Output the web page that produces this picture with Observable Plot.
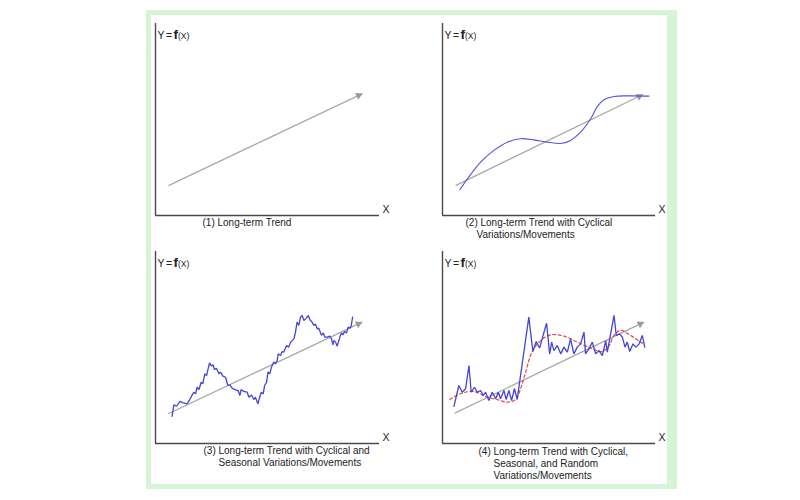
<!DOCTYPE html>
<html>
<head>
<meta charset="utf-8">
<script src="https://cdn.jsdelivr.net/npm/d3@7"></script>
<script src="https://cdn.jsdelivr.net/npm/@observablehq/plot@0.6"></script>
<style>
  body { margin: 0; background: #fff; font-family: "Liberation Sans", Arial, sans-serif; }
  #page { position: relative; width: 800px; height: 500px; overflow: hidden; background: #fff; }
  #frame { position: absolute; left: 146px; top: 10px; width: 516px; height: 469px;
           border-style: solid; border-color: #d5f5d5; border-width: 5px 10px 5px 5px; }
  .panel { position: absolute; }
</style>
</head>
<body>
<div id="page"><div id="frame"></div></div>
<script>
// ---------- data (abstract units: x 0..100 along the X axis, y 0..100 up the Y axis) ----------
const captions1 = ["(1) Long-term Trend"];
const captions2 = ["(2) Long-term Trend with Cyclical", "Variations/Movements"];
const captions3 = ["(3) Long-term Trend with Cyclical and", "Seasonal Variations/Movements"];
const captions4 = ["(4) Long-term Trend with Cyclical,", "Seasonal, and Random", "Variations/Movements"];

const trend1 = [[5.8, 15.6], [92.4, 63.5]];
const trend2 = [[5.8, 15.6], [89.4, 63.0]];
const trend3 = [[5.7, 15.5], [92.3, 63.2]];
const trend4 = [[5.5, 15.8], [89.9, 63.2]];

// (2) cyclical movement
const cyclical2 = [[7.7,13.4],[11.7,20],[17,27.8],[22.9,33.9],[28.9,38.2],[34.8,40],[40.8,39.4],[46.7,38.2],
  [53.4,37.6],[57.1,39.1],[61.6,43.4],[66.1,50.4],[69.1,56.8],[72,60.3],[76.5,62],[82.5,62.3],[92.1,62.2]];

// (3) cyclical + seasonal
const seasonal3 = [[7.4,14.2],[8.2,20.1],[9.4,19.4],[10.9,21.9],[12.4,21.2],[14.1,20.7],[15.3,22.9],[16.4,25.3],
  [17.1,26.7],[17.9,25.9],[18.6,29.3],[19.4,28.1],[20.4,31.9],[21.1,31.1],[22.0,36.3],[22.8,35.4],[24.1,42.0],
  [25.0,40.3],[25.7,41.0],[26.3,38.5],[27.2,39.2],[28.3,36.3],[29.0,37.2],[30.1,35.1],[31.3,34.5],[32.3,30.2],
  [33.2,30.6],[34.2,28.8],[35.4,28.1],[36.9,27.6],[37.7,25.0],[38.2,28.1],[39.4,27.1],[40.9,26.7],[41.7,24.1],
  [42.9,25.3],[43.9,22.9],[44.6,24.1],[45.7,20.7],[46.4,23.6],[47.2,26.7],[48.1,25.9],[48.7,30.2],[49.6,31.9],
  [50.2,37.2],[51.0,36.3],[51.8,39.8],[52.8,42.4],[53.6,41.5],[54.3,43.2],[54.8,46.7],[55.8,45.8],[56.6,47.9],
  [57.3,47.6],[58.5,51.0],[59.5,50.2],[60.3,52.8],[61.8,54.5],[62.5,58.0],[63.2,63.2],[64.0,61.5],[64.7,65.8],
  [65.5,66.7],[66.2,64.1],[67.4,65.3],[68.2,66.7],[68.9,64.6],[69.9,63.2],[70.7,61.5],[71.4,62.2],[72.2,59.7],
  [72.9,60.1],[73.7,57.6],[74.1,56.3],[74.9,57.6],[75.6,55.4],[76.6,55.4],[77.8,55.9],[78.6,54.5],[79.2,51.4],
  [79.6,53.6],[80.4,52.8],[81.1,50.7],[82.3,55.4],[83.0,57.6],[83.6,56.6],[84.4,58.3],[85.3,57.6],[86.0,60.6],
  [86.8,60.1],[87.4,61.5],[88.0,65.8]];

// (4) observed series with random variation
const observed4 = [[5.1,19.3],[7.3,30.2],[8.8,26.7],[10.3,28.5],[11.8,40.6],[12.8,26.7],[14.3,29.3],[15.5,26.7],
  [17.0,27.6],[18.2,25.0],[19.2,26.7],[20.7,22.4],[22.2,26.7],[23.7,23.3],[24.9,26.7],[25.9,23.3],[27.4,27.6],
  [28.4,22.9],[29.6,27.6],[30.8,22.4],[32.1,28.5],[33.3,22.9],[38.5,65.8],[40.3,47.9],[41.8,53.1],[43.3,49.7],
  [46.4,62.7],[47.8,46.7],[48.7,52.8],[49.7,48.4],[51.2,51.0],[52.7,46.7],[54.2,50.2],[55.7,47.6],[57.1,54.5],
  [58.6,46.7],[60.1,50.2],[61.6,51.9],[63.1,58.0],[63.8,46.7],[65.3,49.3],[66.8,52.8],[68.3,46.7],[69.8,48.4],
  [71.3,45.8],[72.8,53.6],[73.5,47.6],[75.0,57.1],[76.5,66.7],[77.5,56.3],[79.0,57.1],[80.2,55.4],[81.4,50.2],
  [82.4,52.8],[83.5,47.9],[85.0,51.9],[86.2,50.2],[87.7,51.9],[89.1,56.3],[90.2,50.2]];
// (4) underlying cyclical curve (dashed)
const cycle4 = [[3.3,22.9],[8.0,25.9],[14.0,27.1],[19.9,24.1],[24.4,22.9],[28.9,21.5],[32.6,22.9],[34.8,28.5],
  [37.1,37.2],[40.0,47.9],[43.8,53.6],[48.2,56.6],[54.2,55.9],[60.1,52.8],[66.1,49.7],[71.3,47.9],[74.3,51.0],
  [76.5,56.3],[79.5,58.9],[83.9,56.3],[88.4,52.8],[89.9,51.9]];

// ---------- layout ----------
const KX = 2.24, KY = 1.92, INNER_H = 192;
const ML = 10, MR = 14, MT = 4;
const TEXT = "#222";
const FONT = "'Liberation Sans', Arial, sans-serif";

function label(txt, dx, size, extra = {}) {
  return Plot.text([txt], {text: d => d, frameAnchor: "top-left", dx, dy: 15, lineAnchor: "bottom",
    textAnchor: "start", fontSize: size, fill: TEXT, ...extra});
}

function panel({left, top, xMax, innerW, trend, series, captions, capPos, mBottom}) {
  const [[x1, y1], [x2, y2]] = trend;
  const ang = Math.atan2((y2 - y1) * KY, (x2 - x1) * KX);
  const back = 4.2;
  const marks = [
    Plot.ruleX([0], {stroke: "#4a4a4a", strokeWidth: 1.4}),
    Plot.ruleY([0], {stroke: "#4a4a4a", strokeWidth: 1.4}),
    Plot.link([trend], {x1: d => d[0][0], y1: d => d[0][1], x2: d => d[1][0], y2: d => d[1][1],
      stroke: "#a8a8a8", strokeWidth: 1.3}),
    Plot.dot([trend[1]], {x: d => d[0], y: d => d[1], symbol: "triangle", r: 2.8,
      fill: "#9a9a9a", stroke: "none", rotate: 90 - ang * 180 / Math.PI,
      dx: -back * Math.cos(ang), dy: back * Math.sin(ang)}),
    ...series,
    label("Y", 2, 10.5),
    label("=", 10.5, 10.5),
    label("f", 18, 13.5, {fontWeight: "bold"}),
    label("(X)", 22.5, 8.5),
    Plot.text(["X"], {text: d => d, frameAnchor: "bottom-right", dx: 3, dy: -6, lineAnchor: "middle",
      textAnchor: "start", fontSize: 10.5, fill: TEXT}),
    ...captions.map((c, i) => Plot.text([c], {text: d => d, frameAnchor: "bottom-left",
      dx: capPos[i][0], dy: capPos[i][1], lineAnchor: "middle", textAnchor: "start", fontSize: 10, fill: TEXT}))
  ];
  const svg = Plot.plot({
    width: ML + innerW + MR,
    height: MT + INNER_H + mBottom,
    marginLeft: ML, marginRight: MR, marginTop: MT, marginBottom: mBottom,
    x: {domain: [0, xMax], axis: null},
    y: {domain: [0, 100], axis: null},
    style: {background: "transparent", fontFamily: FONT, overflow: "visible"},
    marks
  });
  const div = document.createElement("div");
  div.className = "panel";
  div.style.left = left + "px";
  div.style.top = top + "px";
  div.appendChild(svg);
  document.getElementById("page").appendChild(div);
}

const blueThin = {x: d => d[0], y: d => d[1], stroke: "#5555d8", strokeWidth: 1.1, curve: "catmull-rom"};
const blue = {x: d => d[0], y: d => d[1], stroke: "#4444d6", strokeWidth: 1.3, strokeLinejoin: "miter"};

panel({left: 145, top: 19, xMax: 100, innerW: 224, trend: trend1, series: [],
  captions: captions1, capPos: [[47, 7]], mBottom: 30});
panel({left: 432, top: 19, xMax: 95, innerW: 213, trend: trend2,
  series: [Plot.line(cyclical2, blueThin)],
  captions: captions2, capPos: [[23, 7], [34, 19.5]], mBottom: 30});
panel({left: 145, top: 247, xMax: 100, innerW: 224, trend: trend3,
  series: [Plot.line(seasonal3, blue)],
  captions: captions3, capPos: [[48, 7], [63, 19]], mBottom: 42});
panel({left: 432, top: 247, xMax: 95, innerW: 213, trend: trend4,
  series: [
    Plot.line(cycle4, {x: d => d[0], y: d => d[1], stroke: "#e04848", strokeWidth: 1.2,
      strokeDasharray: "3,2.5", curve: "catmull-rom"}),
    Plot.line(observed4, blue)
  ],
  captions: captions4, capPos: [[36, 8], [51, 20], [51, 32]], mBottom: 42});
</script>
</body>
</html>
